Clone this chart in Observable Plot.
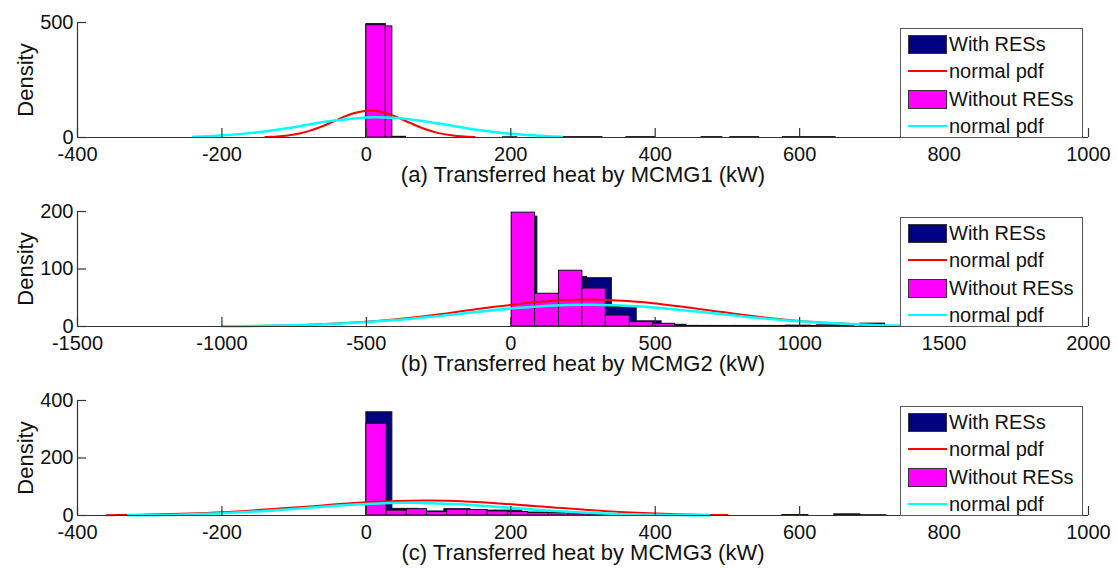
<!DOCTYPE html>
<html><head><meta charset="utf-8">
<script src="https://cdn.jsdelivr.net/npm/d3@7"></script>
<script src="https://cdn.jsdelivr.net/npm/@observablehq/plot@0.6"></script>
<style>
body{margin:0;background:#fff;font-family:"Liberation Sans",Arial,Helvetica,sans-serif;color:#111;}
.panel{position:relative;width:1117px;height:189px;}
.legend{position:absolute;left:900px;top:28px;width:183px;height:110px;border:1px solid #555;background:#fff;box-sizing:border-box;}
.row{position:absolute;left:0;height:27px;width:100%;}
.sw{position:absolute;left:7px;top:4px;width:39px;height:19px;box-sizing:border-box;border:1px solid #333;}
.ln{position:absolute;left:7px;top:12px;width:39px;height:0;border-top:2.5px solid;}
.lt{position:absolute;left:48px;top:2px;font-size:20px;line-height:22px;white-space:nowrap;}
</style>
</head><body>
<div id="root"></div>
<script>
// ---- data ----
// bars: [x start (kW), x end (kW), density]
const panelTitles = ["(a) Transferred heat by MCMG1 (kW)", "(b) Transferred heat by MCMG2 (kW)", "(c) Transferred heat by MCMG3 (kW)"];
const seriesNames = ["With RESs", "normal pdf", "Without RESs", "normal pdf"];
const yLabel = "Density";

const aXTicks = [-400, -200, 0, 200, 400, 600, 800, 1000];
const aYTicks = [0, 500];
const aNavy = [[0,27,493],[36,55,3],[189,209,1],[273,327,1.5],[360,400,1.5],[464,493,1.5],[504,544,1.5],[577,650,1.5]];
const aMagenta = [[0,27,488],[27,36,483]];
const aRed = [[-140,1.7],[-120,5.1],[-100,12.9],[-80,27.6],[-60,50],[-40,78],[-20,103],[0,116],[5,117],[20,112],[40,91.6],[60,64],[80,38],[100,19],[120,8.3],[150,1.7]];
const aCyan = [[-240,3.4],[-200,8.7],[-150,22.6],[-100,45],[-50,71.5],[0,87],[15,88],[50,83],[100,61],[150,35],[200,16],[250,5.6],[270,3.4]];

const bXTicks = [-1500, -1000, -500, 0, 500, 1000, 1500, 2000];
const bYTicks = [0, 100, 200];
const bNavy = [[6,92,191],[92,178,55],[178,264,86],[264,350,84],[350,436,34],[436,522,9],[522,608,3],[608,694,1],[694,780,1],[780,866,1],[866,952,1],[952,1038,1.5],[1038,1124,1],[1210,1296,5]];
const bMagenta = [[3,84,198],[84,167,57],[167,248,97],[248,329,66],[329,412,19],[412,493,7.6],[493,569,4.7],[569,650,1],[958,970,1],[1060,1140,2],[1140,1190,1]];
const bRed = [[-900,0.8],[-700,2.9],[-500,8.1],[-300,17.9],[-100,31.4],[100,43.1],[270,47],[450,42.7],[650,30.6],[850,17.4],[1050,7.7],[1290,2.1]];
const bCyan = [[-1000,0.5],[-800,1.7],[-600,4.9],[-400,11.3],[-200,20.9],[0,31.2],[150,36.6],[270,38],[450,34.8],[650,25.7],[850,15.3],[1050,7.3],[1250,2.8],[1380,1.4]];

const cXTicks = [-400, -200, 0, 200, 400, 600, 800, 1000];
const cYTicks = [0, 200, 400];
const cNavy = [[0,36,359],[36,72,23],[72,108,14],[108,144,22],[144,180,17],[180,216,17],[216,252,10],[252,288,8],[288,324,5],[324,360,3],[360,396,1.5],[396,432,1],[576,612,1.5],[648,684,4],[684,720,1]];
const cMagenta = [[0,28,319],[28,56,17],[56,84,22],[84,112,12],[112,140,20],[140,168,19],[168,196,14],[196,224,12],[224,252,9],[252,280,8],[280,308,6],[308,336,4],[336,364,2.5],[364,392,1]];
const cRed = [[-360,1.2],[-300,3.1],[-200,11.2],[-100,27.6],[0,45.9],[80,52],[150,47.3],[250,29.6],[350,12.5],[420,5.4],[500,1.7]];
const cCyan = [[-330,0.9],[-250,3.8],[-150,14.3],[-50,32.3],[0,40.1],[60,44],[150,35.8],[250,17.5],[350,5.1],[475,0.5]];

const colors = {navy: "#000080", magenta: "#ff00ff", red: "#ff0000", cyan: "#00ffff", axis: "#333333"};

// ---- drawing ----
const toBar = d => ({x1: d[0], x2: d[1], h: d[2]});
const toPt = d => ({x: d[0], y: d[1]});

function panel(title, xTicks, yTicks, navy, magenta, red, cyan) {
  const xmin = xTicks[0], xmax = xTicks[xTicks.length - 1];
  const ymax = yTicks[yTicks.length - 1];
  const chart = Plot.plot({
    width: 1117, height: 189,
    marginTop: 22, marginBottom: 52, marginLeft: 77, marginRight: 29,
    x: {domain: [xmin, xmax]},
    y: {domain: [0, ymax]},
    style: {fontFamily: '"Liberation Sans", Arial, sans-serif', fontSize: "20px", color: "#111", background: "#fff"},
    marks: [
      Plot.rect(navy.map(toBar), {x1: "x1", x2: "x2", y1: 0, y2: "h", fill: colors.navy, stroke: "#111", strokeWidth: 1}),
      Plot.rect(magenta.map(toBar), {x1: "x1", x2: "x2", y1: 0, y2: "h", fill: colors.magenta, stroke: "#111", strokeWidth: 1}),
      Plot.line(red.map(toPt), {x: "x", y: "y", stroke: colors.red, strokeWidth: 2, curve: "catmull-rom"}),
      Plot.line(cyan.map(toPt), {x: "x", y: "y", stroke: colors.cyan, strokeWidth: 2.5, curve: "catmull-rom"}),
      Plot.ruleY([0], {stroke: colors.axis, strokeWidth: 1.2}),
      Plot.ruleX([xmin], {y1: 0, y2: ymax, stroke: colors.axis, strokeWidth: 1.2}),
      Plot.ruleX(xTicks, {y1: 0, y2: 0, insetTop: -9, stroke: colors.axis, strokeWidth: 1.2}),
      Plot.ruleY(yTicks, {x1: xmin, x2: xmin, insetRight: -9, stroke: colors.axis, strokeWidth: 1.2}),
      Plot.axisX({ticks: xTicks, tickSize: 0, tickPadding: 9, label: null, tickFormat: d => String(d)}),
      Plot.axisY({ticks: yTicks, tickSize: 0, tickPadding: 4, label: null, tickFormat: d => String(d)}),
      Plot.text([title], {frameAnchor: "bottom", dy: 44, fontSize: 22, fill: "#111"}),
      Plot.text([yLabel], {frameAnchor: "left", dx: -52, rotate: -90, textAnchor: "middle", fontSize: 22, fill: "#111"})
    ]
  });
  const div = document.createElement("div");
  div.className = "panel";
  div.appendChild(chart);
  const leg = document.createElement("div");
  leg.className = "legend";
  const kinds = [["sw", colors.navy], ["ln", colors.red], ["sw", colors.magenta], ["ln", colors.cyan]];
  seriesNames.forEach((name, i) => {
    const row = document.createElement("div");
    row.className = "row";
    row.style.top = (2 + i * 27.3) + "px";
    const s = document.createElement("div");
    s.className = kinds[i][0];
    if (kinds[i][0] === "sw") s.style.background = kinds[i][1]; else s.style.borderTopColor = kinds[i][1];
    const t = document.createElement("div");
    t.className = "lt";
    t.textContent = name;
    row.appendChild(s); row.appendChild(t);
    leg.appendChild(row);
  });
  div.appendChild(leg);
  return div;
}

const root = document.getElementById("root");
root.appendChild(panel(panelTitles[0], aXTicks, aYTicks, aNavy, aMagenta, aRed, aCyan));
root.appendChild(panel(panelTitles[1], bXTicks, bYTicks, bNavy, bMagenta, bRed, bCyan));
root.appendChild(panel(panelTitles[2], cXTicks, cYTicks, cNavy, cMagenta, cRed, cCyan));
</script>
</body></html>
